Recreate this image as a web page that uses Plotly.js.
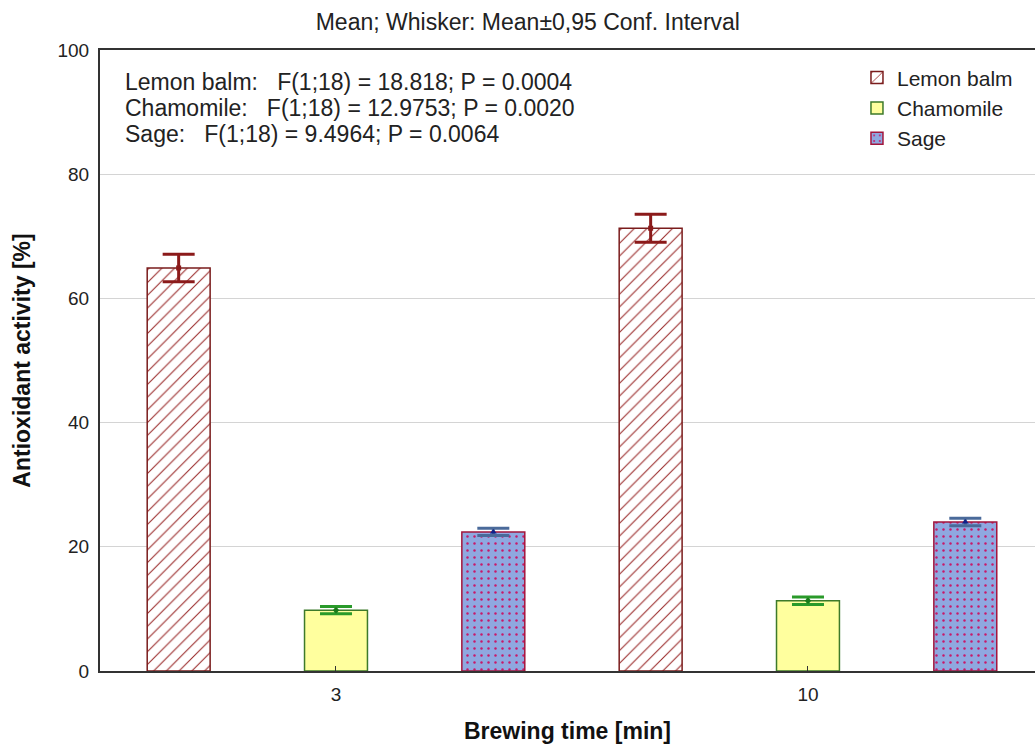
<!DOCTYPE html>
<html>
<head>
<meta charset="utf-8">
<script src="https://cdn.plot.ly/plotly-3.0.1.min.js"></script>
<style>html,body{margin:0;padding:0;background:#fff;}#chart{width:1035px;height:744px;}</style>
</head>
<body>
<div id="chart"></div>
<script>
const categories = ['3', '10'];
const seriesNames = ['Lemon balm', 'Chamomile', 'Sage'];
const lemonBalm = [64.9, 71.3];
const lemonBalmCI = [2.2, 2.25];
const chamomile = [9.8, 11.3];
const chamomileCI = [0.6, 0.6];
const sage = [22.4, 24.0];
const sageCI = [0.6, 0.6];
const statLines = [
  'Lemon balm:\u00a0\u00a0\u00a0F(1;18) = 18.818; P = 0.0004',
  'Chamomile:\u00a0\u00a0\u00a0F(1;18) = 12.9753; P = 0.0020',
  'Sage:\u00a0\u00a0\u00a0F(1;18) = 9.4964; P = 0.0064'
];

const FONT = 'Liberation Sans, Arial, sans-serif';

const traces = [
  {
    type: 'bar', name: seriesNames[0], x: categories, y: lemonBalm,
    marker: {color: '#ffffff', line: {color: '#7a1c1c', width: 1.5},
      pattern: {shape: '/', fgcolor: '#9a2a2a', bgcolor: '#ffffff', size: 9, solidity: 0.12}},
    error_y: {type: 'data', array: lemonBalmCI, visible: true, color: '#8b1a1a', thickness: 3, width: 16}
  },
  {
    type: 'bar', name: seriesNames[1], x: categories, y: chamomile,
    marker: {color: '#ffff9e', line: {color: '#3d7a2a', width: 1.5}},
    error_y: {type: 'data', array: chamomileCI, visible: true, color: '#2a9a2a', thickness: 3, width: 16}
  },
  {
    type: 'bar', name: seriesNames[2], x: categories, y: sage,
    marker: {color: '#8fa8e0', line: {color: '#a3163c', width: 1.5},
      pattern: {shape: '.', fgcolor: '#c8186a', bgcolor: '#8fa8e0', size: 7, solidity: 0.1}},
    error_y: {type: 'data', array: sageCI, visible: true, color: '#4a6a9a', thickness: 3, width: 16}
  },
  {type: 'scatter', mode: 'markers', x: categories, y: lemonBalm, showlegend: false, hoverinfo: 'skip',
    marker: {symbol: 'square', size: 5, color: '#8b1a1a'}},
  {type: 'scatter', mode: 'markers', x: categories, y: chamomile, showlegend: false, hoverinfo: 'skip',
    marker: {symbol: 'diamond', size: 5, color: '#1a7a1a'}},
  {type: 'scatter', mode: 'markers', x: categories, y: sage, showlegend: false, hoverinfo: 'skip',
    marker: {symbol: 'triangle-up', size: 6, color: '#10208a'}}
];

const annY = [0.9485, 0.9066, 0.8647];

const layout = {
  width: 1035, height: 744,
  margin: {l: 100, r: 0, t: 50, b: 73},
  paper_bgcolor: '#ffffff', plot_bgcolor: '#ffffff',
  font: {family: FONT, color: '#222222', size: 19},
  barmode: 'group', bargap: 0, bargroupgap: 0.6,
  scattermode: 'group', scattergap: 0,
  showlegend: true,
  title: {text: 'Mean; Whisker: Mean\u00b10,95 Conf. Interval', font: {family: FONT, size: 23, color: '#222'},
    x: 0.51, xanchor: 'center', y: 0.9704, yanchor: 'middle', xref: 'container'},
  xaxis: {
    type: 'category', range: [-0.5, 1.481],
    showgrid: false, zeroline: false,
    showline: true, linecolor: '#333', linewidth: 2, mirror: true,
    ticks: 'inside', ticklen: 5, tickcolor: '#333',
    tickfont: {size: 19, color: '#222'}, ticklabelstandoff: 5,
    title: {text: '<b>Brewing time [min]</b>', font: {size: 23, color: '#111'}, standoff: 21}
  },
  yaxis: {
    range: [0, 100], tickvals: [0, 20, 40, 60, 80, 100],
    showgrid: true, gridcolor: '#d4d4d4', gridwidth: 1, zeroline: false,
    showline: true, linecolor: '#333', linewidth: 2, mirror: true,
    ticks: '', tickfont: {size: 19, color: '#222'}, ticklabelstandoff: 5,
    title: {text: '<b>Antioxidant activity [%]</b>', font: {size: 23, color: '#111'}, standoff: 20}
  },
  legend: {
    x: 0.8096, y: 0.988, xanchor: 'left', yanchor: 'top',
    font: {size: 21, color: '#222'}, bgcolor: 'rgba(0,0,0,0)',
    tracegroupgap: 0, itemwidth: 30
  },
  annotations: statLines.map((t, i) => ({
    xref: 'paper', yref: 'paper', x: 0.0246, y: annY[i], xanchor: 'left', yanchor: 'middle',
    align: 'left', showarrow: false, text: t,
    font: {size: 23, color: '#222'}
  }))
};

Plotly.newPlot('chart', traces, layout, {displayModeBar: false, staticPlot: true});
</script>
</body>
</html>
